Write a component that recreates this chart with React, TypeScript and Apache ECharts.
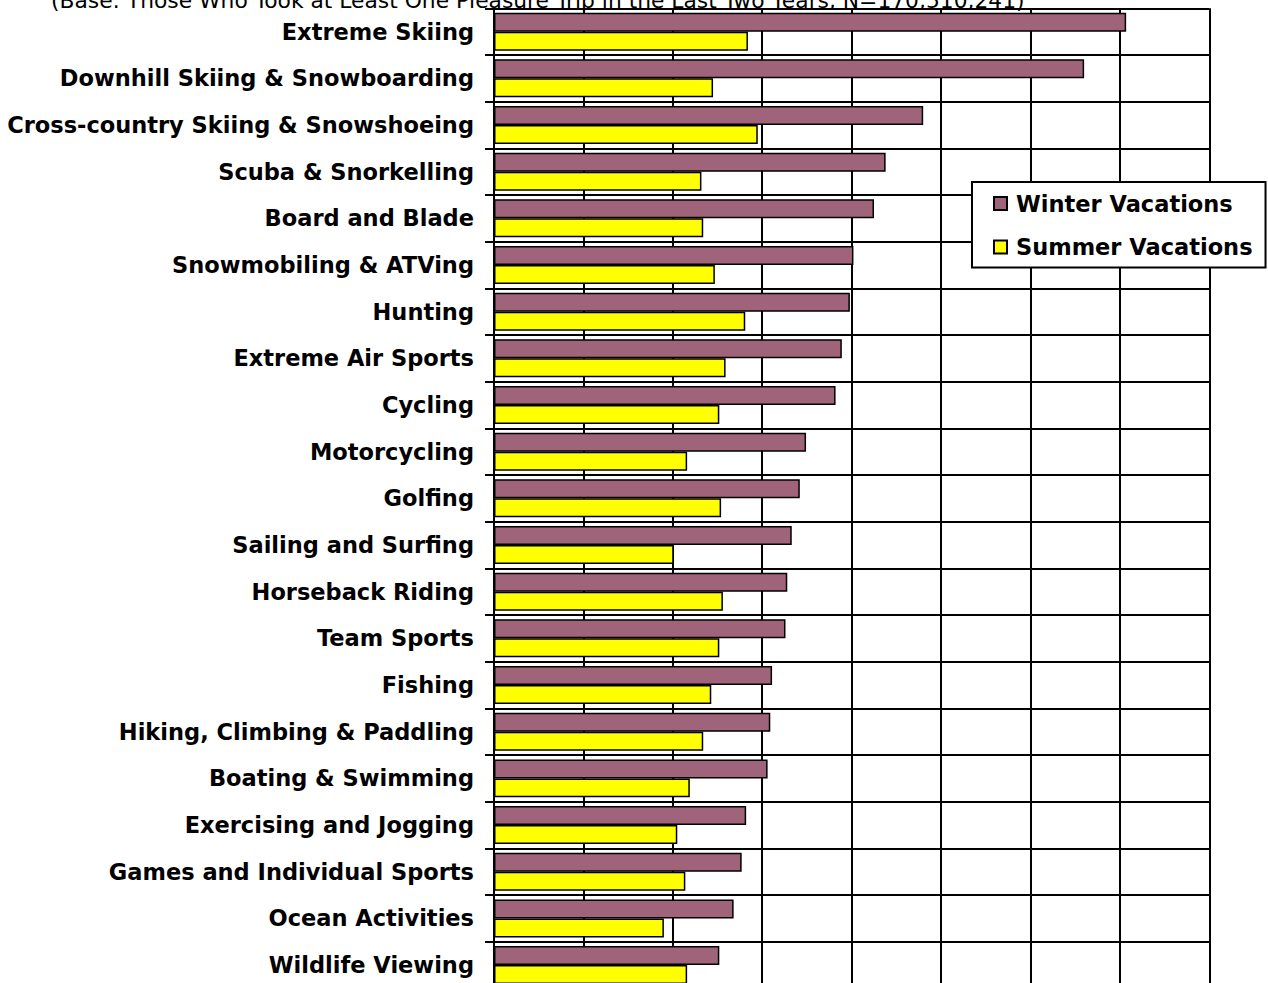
import React, { useEffect, useRef } from "react";
import * as echarts from "echarts";

const subtitle =
  "(Base: Those Who Took at Least One Pleasure Trip in the Last Two Years, N=170,510,241)";

const categories = [
  "Extreme Skiing",
  "Downhill Skiing & Snowboarding",
  "Cross-country Skiing & Snowshoeing",
  "Scuba & Snorkelling",
  "Board and Blade",
  "Snowmobiling & ATVing",
  "Hunting",
  "Extreme Air Sports",
  "Cycling",
  "Motorcycling",
  "Golfing",
  "Sailing and Surfing",
  "Horseback Riding",
  "Team Sports",
  "Fishing",
  "Hiking, Climbing & Paddling",
  "Boating & Swimming",
  "Exercising and Jogging",
  "Games and Individual Sports",
  "Ocean Activities",
  "Wildlife Viewing",
];

const seriesNames = ["Winter Vacations", "Summer Vacations"];

const winterValues = [
  353.5, 330, 240, 219, 212.5, 201, 199, 194.5, 191, 174.5, 171, 166.5, 164,
  163, 155.5, 154.5, 153, 141, 138.5, 134, 126,
];

const summerValues = [
  142, 122.5, 147.5, 116, 117, 123.5, 140.5, 129.5, 126, 108, 127, 100.5, 128,
  126, 121.5, 117, 109.5, 102.5, 107, 95, 108,
];

const valueMin = 0;
const valueMax = 400;
const valueInterval = 50;

const LABEL_FONT = "'DejaVu Sans', sans-serif";

export default function App() {
  const ref = useRef<HTMLDivElement>(null);

  useEffect(() => {
    if (!ref.current) return;
    const chart = echarts.init(ref.current, undefined, { renderer: "svg" });
    const barBorder = { borderColor: "#000", borderWidth: 1.5 };
    chart.setOption({
      animation: false,
      backgroundColor: "#fff",
      title: {
        text: subtitle,
        left: 51,
        top: -11,
        padding: 0,
        textStyle: {
          fontFamily: LABEL_FONT,
          fontWeight: "normal",
          fontSize: 21.8,
          color: "#000",
        },
      },
      legend: {
        data: seriesNames,
        orient: "vertical",
        left: 972,
        top: 182,
        padding: [10, 13, 9, 21],
        itemGap: 20.5,
        itemWidth: 13,
        itemHeight: 13,
        icon: "rect",
        backgroundColor: "#fff",
        borderColor: "#000",
        borderWidth: 2,
        borderRadius: 0,
        textStyle: {
          fontFamily: LABEL_FONT,
          fontWeight: "bold",
          fontSize: 22.5,
          color: "#000",
          padding: [0, 0, 0, 4],
        },
      },
      grid: {
        left: 494,
        right: 58.7,
        top: 8.3,
        bottom: -5.4,
        containLabel: false,
        outerBoundsMode: "none",
      },
      xAxis: {
        type: "value",
        min: valueMin,
        max: valueMax,
        interval: valueInterval,
        axisLabel: { show: false },
        axisLine: { show: false },
        axisTick: { show: false },
        splitLine: { show: true, lineStyle: { color: "#000", width: 2 } },
      },
      yAxis: {
        type: "category",
        data: categories,
        inverse: true,
        axisLine: { show: true, lineStyle: { color: "#000", width: 2 } },
        axisTick: {
          show: true,
          length: 9,
          inside: false,
          lineStyle: { color: "#000", width: 2 },
        },
        splitLine: { show: true, lineStyle: { color: "#000", width: 2 } },
        axisLabel: {
          margin: 20,
          fontFamily: LABEL_FONT,
          fontWeight: "bold",
          fontSize: 22.5,
          color: "#000",
          interval: 0,
        },
      },
      series: [
        {
          name: seriesNames[0],
          type: "bar",
          data: winterValues,
          barGap: "0%",
          barCategoryGap: "18.6%",
          itemStyle: { color: "#A0647A", ...barBorder },
        },
        {
          name: seriesNames[1],
          type: "bar",
          data: summerValues,
          barGap: "0%",
          barCategoryGap: "18.6%",
          itemStyle: { color: "#FFFF00", ...barBorder },
        },
      ],
    });
    return () => chart.dispose();
  }, []);

  return (
    <div
      ref={ref}
      style={{
        position: "absolute",
        left: 0,
        top: 0,
        width: 1268,
        height: 983,
        overflow: "hidden",
      }}
    />
  );
}
